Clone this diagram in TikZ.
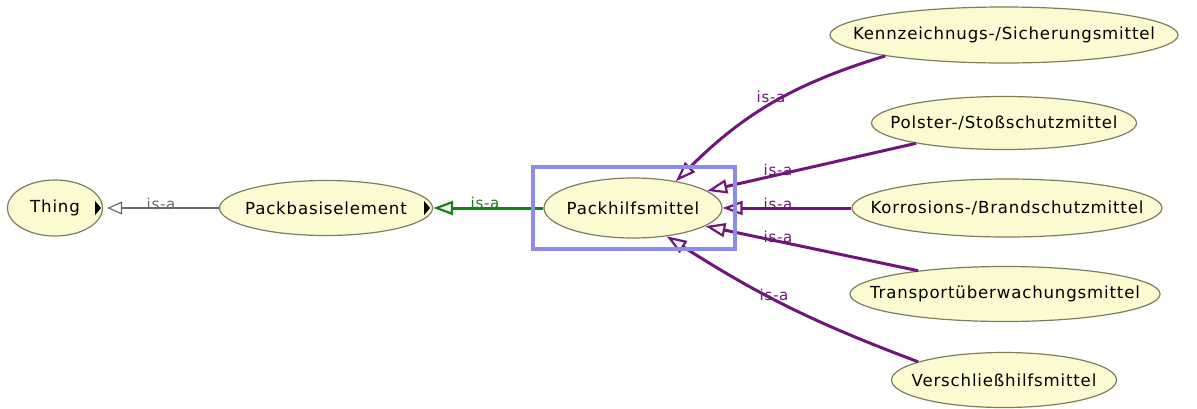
\documentclass[tikz,border=0pt]{standalone}
\usepackage{fontspec}
\setmainfont{DejaVu Sans}[LetterSpace=5]
\usetikzlibrary{shapes.geometric,arrows.meta,calc}
\definecolor{clsfill}{RGB}{252,250,208}
\definecolor{clsdraw}{RGB}{125,125,95}
\definecolor{isapurple}{RGB}{112,22,122}
\definecolor{isagreen}{RGB}{20,130,20}
\definecolor{isagray}{RGB}{105,105,105}
\definecolor{selblue}{RGB}{140,140,235}
\begin{document}
\begin{tikzpicture}[x=0.5pt,y=-0.5pt,
  clstext/.style={inner sep=0pt, font=\fontsize{8.3}{10}\selectfont},
  cls/.style={ellipse, draw=clsdraw, line width=0.6pt, fill=clsfill, inner sep=0pt,
    label={[clstext]center:#1}},
  isa/.style={-{Triangle[open,length=10pt,width=7pt,line width=1.1pt]}, line width=1.5pt},
  isathin/.style={-{Triangle[open,length=7.5pt,width=6.5pt,line width=0.6pt]}, line width=0.6pt},
  lbl/.style={font=\fontsize{7.5}{9}\selectfont, inner sep=0pt},
  marker/.style={fill=black}]

\useasboundingbox (0,0) rectangle (1197,408);
\fill[white] (0,0) rectangle (1197,408);

% classes (ellipse size fixed, name set as a centred label)
\node (thing) [cls={Thing\hspace{6pt}}, minimum width=47.5pt, minimum height=28pt] at (55,208) {};
\node (pbe)   [cls={Packbasiselement\hspace{5pt}}, minimum width=106.5pt, minimum height=27.5pt] at (326,208) {};
\node (phm)   [cls=Packhilfsmittel, minimum width=89pt, minimum height=30pt] at (633,208) {};
\node (kenn)  [cls=Kennzeichnugs-/Sicherungsmittel, minimum width=174pt, minimum height=28pt] at (1004,35) {};
\node (pol)   [cls=Polster-/Stoßschutzmittel, minimum width=132.5pt, minimum height=26.5pt] at (1004,123) {};
\node (kor)   [cls=Korrosions-/Brandschutzmittel, minimum width=155pt, minimum height=29pt] at (1007,208) {};
\node (tra)   [cls=Transportüberwachungsmittel, minimum width=155pt, minimum height=27.5pt] at (1005,294) {};
\node (ver)   [cls=Verschließhilfsmittel, minimum width=112.5pt, minimum height=27.5pt] at (1004,380) {};

% expand markers
\fill[marker] ($(thing.east)+(-8,-7)$) -- ++(6,7) -- ++(-6,7) -- cycle;
\fill[marker] ($(pbe.east)+(-9,-7)$) -- ++(6,7) -- ++(-6,7) -- cycle;

% is-a connectors
\draw[isathin, isagray] (pbe.west) -- ($(thing.east)+(4,0)$);
\draw[isa, isagreen] (phm.west) -- (pbe.east);
\draw[isa, isapurple] (kenn.190) to[bend right=14] (phm.32);
\draw[isa, isapurple] (pol.193) -- (phm.13);
\draw[isa, isapurple] (kor.west) -- (phm.east);
\draw[isa, isapurple] (tra.165) -- (phm.-14);
\draw[isa, isapurple] (ver.168) to[bend left=6] (phm.-40);

% selection frame around the focused class
\node (sel) [draw=selblue, line width=2pt, minimum width=101pt, minimum height=41pt, inner sep=0pt] at (634,208) {};

% labels
\node (l1) [lbl, text=isagray] at (161,204) {is-a};
\node (l2) [lbl, text=isagreen] at (485,203) {is-a};
\node (l3) [lbl, text=isapurple] at (771,97) {is-a};
\node (l4) [lbl, text=isapurple] at (778,170) {is-a};
\node (l5) [lbl, text=isapurple] at (778,204) {is-a};
\node (l6) [lbl, text=isapurple] at (778,237) {is-a};
\node (l7) [lbl, text=isapurple] at (774,295) {is-a};
\end{tikzpicture}
\end{document}
